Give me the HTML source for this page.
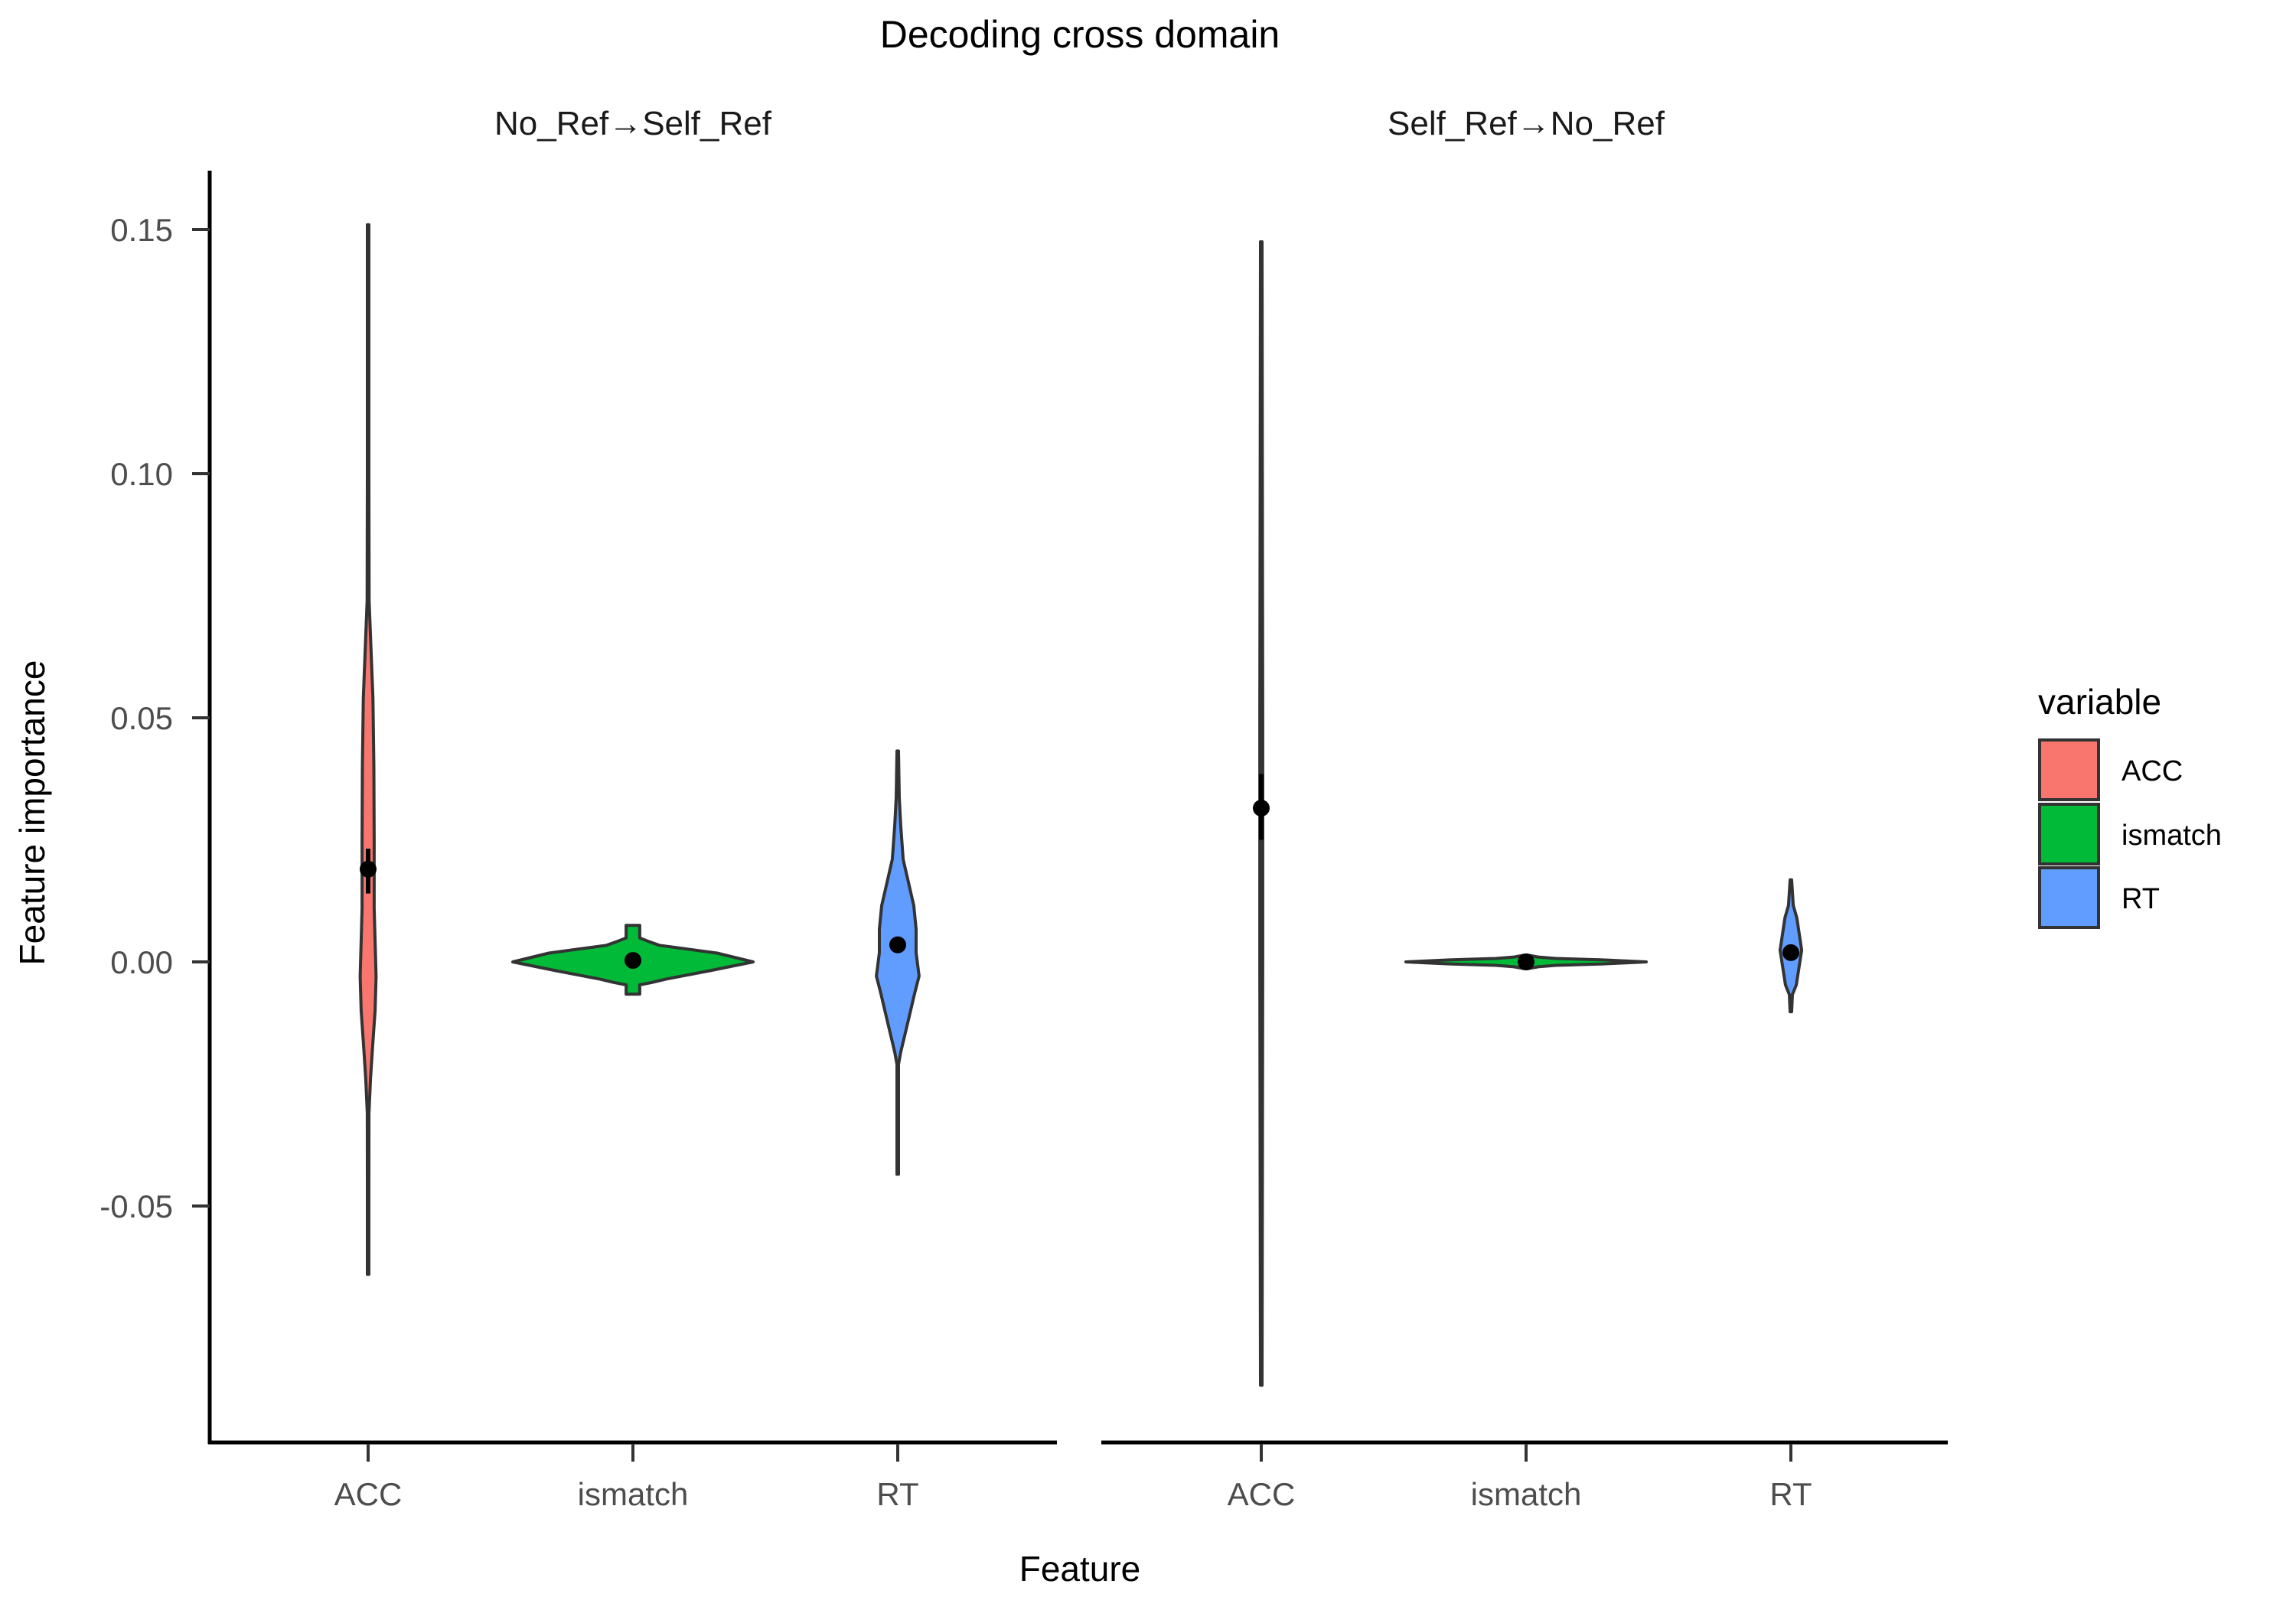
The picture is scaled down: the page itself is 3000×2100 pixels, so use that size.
<!DOCTYPE html>
<html>
<head>
<meta charset="utf-8">
<style>
html,body{margin:0;padding:0;background:#fff;}
svg{display:block;}
text{font-family:"Liberation Sans",sans-serif;}
</style>
</head>
<body>
<svg id="chart" width="3000" height="2100" viewBox="0 0 3000 2100" xmlns="http://www.w3.org/2000/svg">
  <rect x="0" y="0" width="3000" height="2100" fill="#fff"/>
  <text x="1411" y="62" font-size="50" text-anchor="middle" fill="#000">Decoding cross domain</text>
  <text x="827" y="176" font-size="44" text-anchor="middle" fill="#1a1a1a">No_Ref→Self_Ref</text>
  <text x="1994" y="176" font-size="44" text-anchor="middle" fill="#1a1a1a">Self_Ref→No_Ref</text>
  <text x="1411" y="2066" font-size="46" text-anchor="middle" fill="#000">Feature</text>
  <text x="0" y="0" font-size="46" text-anchor="middle" fill="#000" transform="translate(58,1062) rotate(-90)">Feature importance</text>
  <g id="axes"></g>
  <g id="marks"></g>
  <g id="legend">
    <text x="2663" y="933" font-size="46" fill="#000">variable</text>
    <rect x="2665" y="967" width="77" height="78" fill="#F8766D" stroke="#333" stroke-width="4"/>
    <rect x="2665" y="1051" width="77" height="78" fill="#00BA38" stroke="#333" stroke-width="4"/>
    <rect x="2665" y="1134" width="77" height="78" fill="#619CFF" stroke="#333" stroke-width="4"/>
    <text x="2772" y="1020" font-size="38" fill="#000">ACC</text>
    <text x="2772" y="1104" font-size="38" fill="#000">ismatch</text>
    <text x="2772" y="1187" font-size="38" fill="#000">RT</text>
  </g>
</svg>
<script>
const categories = ["ACC", "ismatch", "RT"];
const panels = ["No_Ref→Self_Ref", "Self_Ref→No_Ref"];
const yTicks = [-0.05, 0, 0.05, 0.10, 0.15];
const yTickLabels = ["-0.05", "0.00", "0.05", "0.10", "0.15"];
const colors = ["#F8766D", "#00BA38", "#619CFF"];

// violin profiles: values and relative densities (max = 1)
const acc1Vals = [0.151, 0.10, 0.074, 0.054, 0.04, 0.025, 0.011, -0.003, -0.01, -0.017, -0.024, -0.031, -0.045, -0.064];
const acc1Dens = [0.002, 0.003, 0.008, 0.04, 0.048, 0.05, 0.05, 0.066, 0.058, 0.038, 0.02, 0.007, 0.003, 0.002];
const ism1Vals = [0.0075, 0.006, 0.0049, 0.0042, 0.0034, 0.0018, 0, -0.0018, -0.0035, -0.0042, -0.0047, -0.0066];
const ism1Dens = [0.057, 0.057, 0.057, 0.13, 0.22, 0.70, 1.0, 0.64, 0.28, 0.16, 0.057, 0.057];
const rt1Vals = [0.0432, 0.0337, 0.028, 0.021, 0.0115, 0.0067, 0.0019, -0.0029, -0.0065, -0.0125, -0.0185, -0.021, -0.03, -0.0435];
const rt1Dens = [0.003, 0.013, 0.025, 0.045, 0.134, 0.153, 0.153, 0.178, 0.14, 0.083, 0.025, 0.006, 0.005, 0.003];
const acc2Vals = [0.1475, 0.1, 0.05, 0.0, -0.05, -0.0867];
const acc2Dens = [0.006, 0.009, 0.012, 0.012, 0.009, 0.006];
const ism2Vals = [0.0014, 0.001, 0.0007, 0.0004, 0, -0.0004, -0.0007, -0.001, -0.0014];
const ism2Dens = [0.013, 0.1, 0.25, 0.64, 1.0, 0.64, 0.25, 0.1, 0.013];
const rt2Vals = [0.0168, 0.0116, 0.009, 0.0024, -0.0047, -0.0067, -0.0102];
const rt2Dens = [0.006, 0.02, 0.05, 0.09, 0.045, 0.013, 0.006];

const means = [[0.019, 0.0003, 0.0035], [0.0315, 0.0, 0.0019]];
const errLow = [[0.014, -0.0002, 0.0025], [0.025, -0.0003, 0.0012]];
const errHigh = [[0.0232, 0.0008, 0.0045], [0.0385, 0.0003, 0.0026]];

const violinVals = [[acc1Vals, ism1Vals, rt1Vals], [acc2Vals, ism2Vals, rt2Vals]];
const violinDens = [[acc1Dens, ism1Dens, rt1Dens], [acc2Dens, ism2Dens, rt2Dens]];

const NS = "http://www.w3.org/2000/svg";
const panelX0 = [274, 1441];
const panelX1 = [1381, 2545];
const catStep = 346;
const catOffset = 207;
const maxHalf = 157;
function xScale(p, c) { return panelX0[p] + catOffset + c * catStep; }
function yScale(v) { return 1257 - v * 6380; }

const axes = document.getElementById("axes");
const marks = document.getElementById("marks");
function mk(tag, attrs, parent) {
  const e = document.createElementNS(NS, tag);
  for (const k in attrs) e.setAttribute(k, attrs[k]);
  parent.appendChild(e);
  return e;
}

const yAxis = mk("line", {x1: 274, y1: 223, x2: 274, y2: 1887, stroke: "#000", "stroke-width": 5}, axes);


yTicks.forEach((t, i) => {
  const y = yScale(t);
  const tk = mk("line", {x1: 251, y1: y, x2: 274, y2: y, stroke: "#333", "stroke-width": 4}, axes);
  
  
  const lb = mk("text", {x: 226, y: y + 15, "font-size": 42, "text-anchor": "end", fill: "#4d4d4d"}, axes);
  lb.textContent = yTickLabels[i];
  
  
});

panels.forEach((pn, p) => {
  const xa = mk("line", {x1: panelX0[p] - 2, y1: 1885, x2: panelX1[p], y2: 1885, stroke: "#000", "stroke-width": 5}, axes);
  
  
  categories.forEach((c, ci) => {
    const x = xScale(p, ci);
    const tk = mk("line", {x1: x, y1: 1887, x2: x, y2: 1910, stroke: "#333", "stroke-width": 4}, axes);
    
    
    const lb = mk("text", {x: x, y: 1967, "font-size": 42, "text-anchor": "middle", fill: "#4d4d4d"}, axes);
    lb.textContent = c;
    
    

    const vals = violinVals[p][ci], dens = violinDens[p][ci];
    let right = [], left = [];
    for (let i = 0; i < vals.length; i++) {
      const w = Math.max(dens[i] * maxHalf, 1);
      right.push((x + w).toFixed(1) + "," + yScale(vals[i]).toFixed(1));
      left.unshift((x - w).toFixed(1) + "," + yScale(vals[i]).toFixed(1));
    }
    const vp = mk("polygon", {points: right.concat(left).join(" "), fill: colors[ci], stroke: "#333", "stroke-width": 4, "stroke-linejoin": "round"}, marks);
    
    

    const eb = mk("line", {x1: x, y1: yScale(errLow[p][ci]), x2: x, y2: yScale(errHigh[p][ci]), stroke: "#000", "stroke-width": 6}, marks);
    
    
    const pt = mk("circle", {cx: x, cy: yScale(means[p][ci]), r: 11, fill: "#000"}, marks);
    
    
  });
});
</script>
</body>
</html>
